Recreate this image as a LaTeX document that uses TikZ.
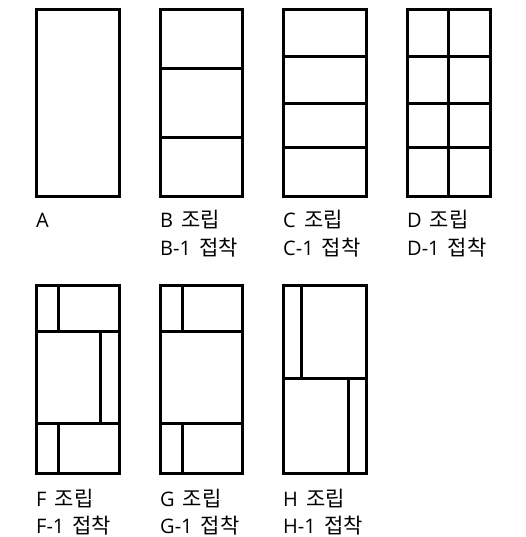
\documentclass[tikz,border=0pt]{standalone}
\usepackage{fontspec}
\setmainfont{Open Sans}
\newfontfamily\kr{Noto Sans CJK KR}
\usetikzlibrary{positioning}
\tikzstyle{panel} = [draw=black, line width=3pt]
\tikzstyle{seam} = [draw=black, line width=3pt]
\tikzstyle{caption} = [anchor=base west, inner sep=0pt, font=\fontsize{20}{24}\selectfont]
\newcommand{\hg}[1]{\hspace{3pt}{\kr\fontsize{21}{24}\selectfont #1}}

\begin{document}
\begin{tikzpicture}[x=1pt, y=-1pt]
        \useasboundingbox (0,0) rectangle (526,537);

        % top row
        \draw [panel] (36,10) rectangle (119,197);

        \draw [panel] (160,10) rectangle (242,197);
        \draw [seam] (160,69) -- (242,69);
        \draw [seam] (160,138) -- (242,138);

        \draw [panel] (283,10) rectangle (366,197);
        \draw [seam] (283,57) -- (366,57);
        \draw [seam] (283,104) -- (366,104);
        \draw [seam] (283,148) -- (366,148);

        \draw [panel] (407,10) rectangle (490,197);
        \draw [seam] (407,57) -- (490,57);
        \draw [seam] (407,104) -- (490,104);
        \draw [seam] (407,148) -- (490,148);
        \draw [seam] (448.5,10) -- (448.5,197);

        \node (capA) [caption] at (36,227) {A};
        \node (capB) [caption] at (160,227) {B \hg{조립}};
        \node (capBb) [caption] at (160,255) {B-1 \hg{접착}};
        \node (capC) [caption] at (283,227) {C \hg{조립}};
        \node (capCb) [caption] at (283,255) {C-1 \hg{접착}};
        \node (capD) [caption] at (407,227) {D \hg{조립}};
        \node (capDb) [caption] at (407,255) {D-1 \hg{접착}};

        % bottom row
        \draw [panel] (36,285) rectangle (119,473);
        \draw [seam] (36,331) -- (119,331);
        \draw [seam] (36,423) -- (119,423);
        \draw [seam] (58,285) -- (58,331);
        \draw [seam] (100,331) -- (100,423);
        \draw [seam] (58,423) -- (58,473);

        \draw [panel] (160,285) rectangle (242,473);
        \draw [seam] (160,331) -- (242,331);
        \draw [seam] (160,423) -- (242,423);
        \draw [seam] (182,285) -- (182,331);
        \draw [seam] (182,423) -- (182,473);

        \draw [panel] (283,285) rectangle (366,473);
        \draw [seam] (283,378) -- (366,378);
        \draw [seam] (301,285) -- (301,378);
        \draw [seam] (348,378) -- (348,473);

        \node (capF) [caption] at (36,506) {F \hg{조립}};
        \node (capFb) [caption] at (36,533) {F-1 \hg{접착}};
        \node (capG) [caption] at (160,506) {G \hg{조립}};
        \node (capGb) [caption] at (160,533) {G-1 \hg{접착}};
        \node (capH) [caption] at (283,506) {H \hg{조립}};
        \node (capHb) [caption] at (283,533) {H-1 \hg{접착}};
    \end{tikzpicture}
\end{document}
